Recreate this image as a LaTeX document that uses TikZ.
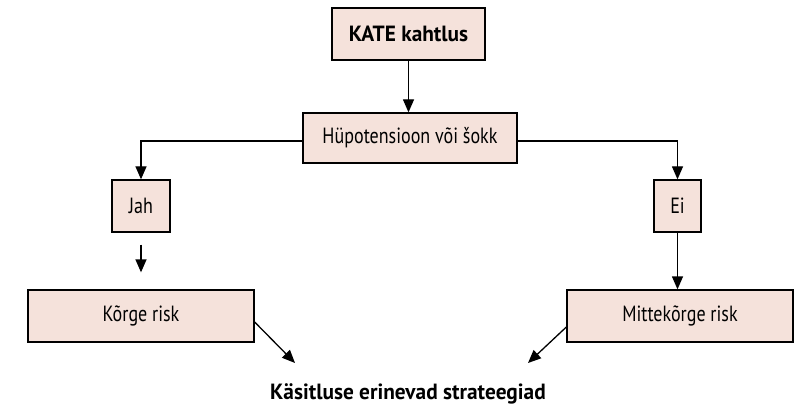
\documentclass[tikz,border=0pt]{standalone}
\usepackage{fontspec}
\setmainfont{PT Sans}[FakeStretch=0.82]
\newfontfamily\headfont{PT Sans}[FakeStretch=0.97]
\usetikzlibrary{arrows.meta,positioning}
\definecolor{boxfill}{RGB}{245,226,219}
\begin{document}
\begin{tikzpicture}[
  x=1pt, y=-1pt,
  box/.style={draw,line width=1.3pt,fill=boxfill,inner sep=0pt,font=\fontsize{22}{26}\selectfont},
  head/.style={font=\headfont\fontsize{22}{26}\selectfont\bfseries},
  arr/.style={draw,line width=1.3pt,-{Triangle[length=13pt,width=11pt]}}
]
\useasboundingbox (0,0) rectangle (796,409);
\node[box,head,minimum width=153pt,minimum height=52pt] (kate) at (408.5,34) {KATE kahtlus};
\node[box,minimum width=214pt,minimum height=50pt] (hyp) at (410,138) {Hüpotensioon või šokk};
\node[box,minimum width=58pt,minimum height=52pt] (jah) at (141,206) {Jah};
\node[box,minimum width=47pt,minimum height=52pt] (ei) at (677.5,206) {Ei};
\node[box,minimum width=226pt,minimum height=52pt] (korge) at (141,316) {Kõrge risk};
\node[box,minimum width=226pt,minimum height=52pt] (mitte) at (680,316) {Mittekõrge risk};
\node[head] (strat) at (408,394) {Käsitluse erinevad strateegiad};
\coordinate (kl) at (295,363);
\coordinate (ml) at (528,363);

\draw[arr] (kate) -- (kate |- hyp.north);
\draw[arr] (hyp.west |- 0,141) -| (jah.north);
\draw[arr] (hyp.east |- 0,141) -| (ei.north);
\draw[arr,shorten <=12pt,shorten >=17pt] (jah) -- (jah |- korge.north);
\draw[arr] (ei) -- (ei |- mitte.north);
\draw[arr] (korge.east |- 0,322) -- (kl);
\draw[arr] (mitte.west |- 0,327) -- (ml);
\end{tikzpicture}
\end{document}
